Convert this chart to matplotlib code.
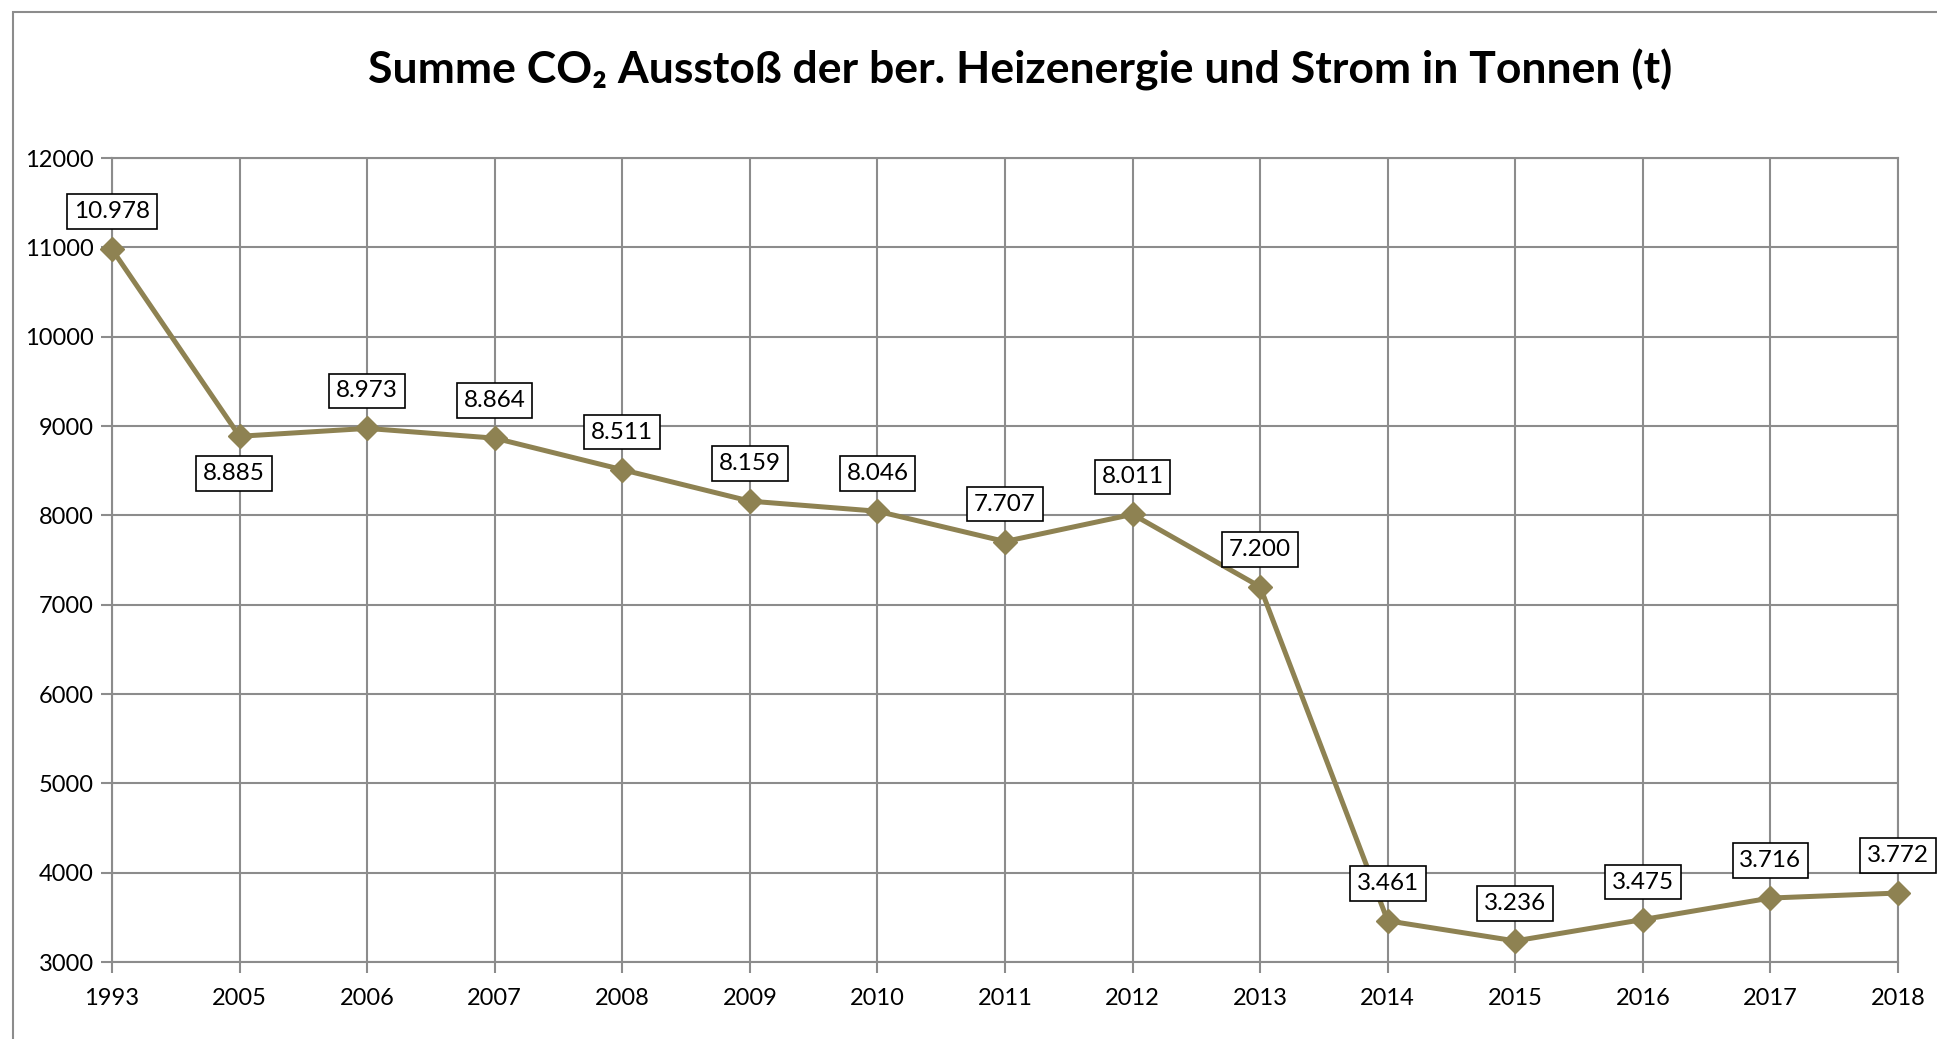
import matplotlib
matplotlib.use("Agg")
import matplotlib.pyplot as plt
from matplotlib.patches import Rectangle

years = ["1993", "2005", "2006", "2007", "2008", "2009", "2010", "2011",
         "2012", "2013", "2014", "2015", "2016", "2017", "2018"]
co2 = [10978, 8885, 8973, 8864, 8511, 8159, 8046, 7707, 8011, 7200,
       3461, 3236, 3475, 3716, 3772]
# label below the point for these years
below = ["2005"]

plt.rcParams['font.family'] = ['Lato', 'DejaVu Sans']

line_col = '#8E8252'
grid_col = '#8C8C8C'

fig = plt.figure(figsize=(19.37, 10.39), dpi=100)
# outer chart border (cut off at right / bottom like the screenshot)
fig.patches.append(Rectangle((13 / 1937, -0.1), 1.2, 1 - 12 / 1039 + 0.1,
                             transform=fig.transFigure, fill=False,
                             edgecolor='#8C8C8C', linewidth=1.5))

ax = fig.add_axes([112 / 1937, 1 - 962 / 1039, (1898 - 112) / 1937, (962 - 158) / 1039])
x = list(range(len(years)))
ax.plot(x, co2, color=line_col, linewidth=3.6, marker='D', markersize=12,
        zorder=3, clip_on=False)

ax.set_xlim(0, len(years) - 1)
ax.set_ylim(3000, 12000)
ax.set_yticks(range(3000, 12001, 1000))
ax.set_xticks(x)
ax.set_xticklabels(years)
ax.grid(True, color=grid_col, linewidth=1.5)
ax.set_axisbelow(True)
for s in ax.spines.values():
    s.set_color(grid_col)
    s.set_linewidth(1.5)
ax.tick_params(axis='both', colors=grid_col, length=8, width=1.5,
               labelcolor='black', labelsize=17)
ax.tick_params(axis='x', pad=11)
ax.tick_params(axis='y', pad=5)

for xi, yr, v in zip(x, years, co2):
    txt = f"{v:,}".replace(",", ".")
    dy = -27 if yr in below else 27
    dx = -4 if yr in below else 0
    ax.annotate(txt, (xi, v), xytext=(dx, dy), textcoords='offset points',
                ha='center', va='center', fontsize=17.5, zorder=5,
                annotation_clip=False,
                bbox=dict(boxstyle='square,pad=0.28', facecolor='white',
                          edgecolor='black', linewidth=1.2))

fig.text(1020 / 1937, 1 - 70 / 1039,
         "Summe CO\u2082 Ausstoß der ber. Heizenergie und Strom in Tonnen (t)",
         ha='center', va='center', fontsize=32, fontweight='bold')

fig.savefig("out.png", dpi=100)
